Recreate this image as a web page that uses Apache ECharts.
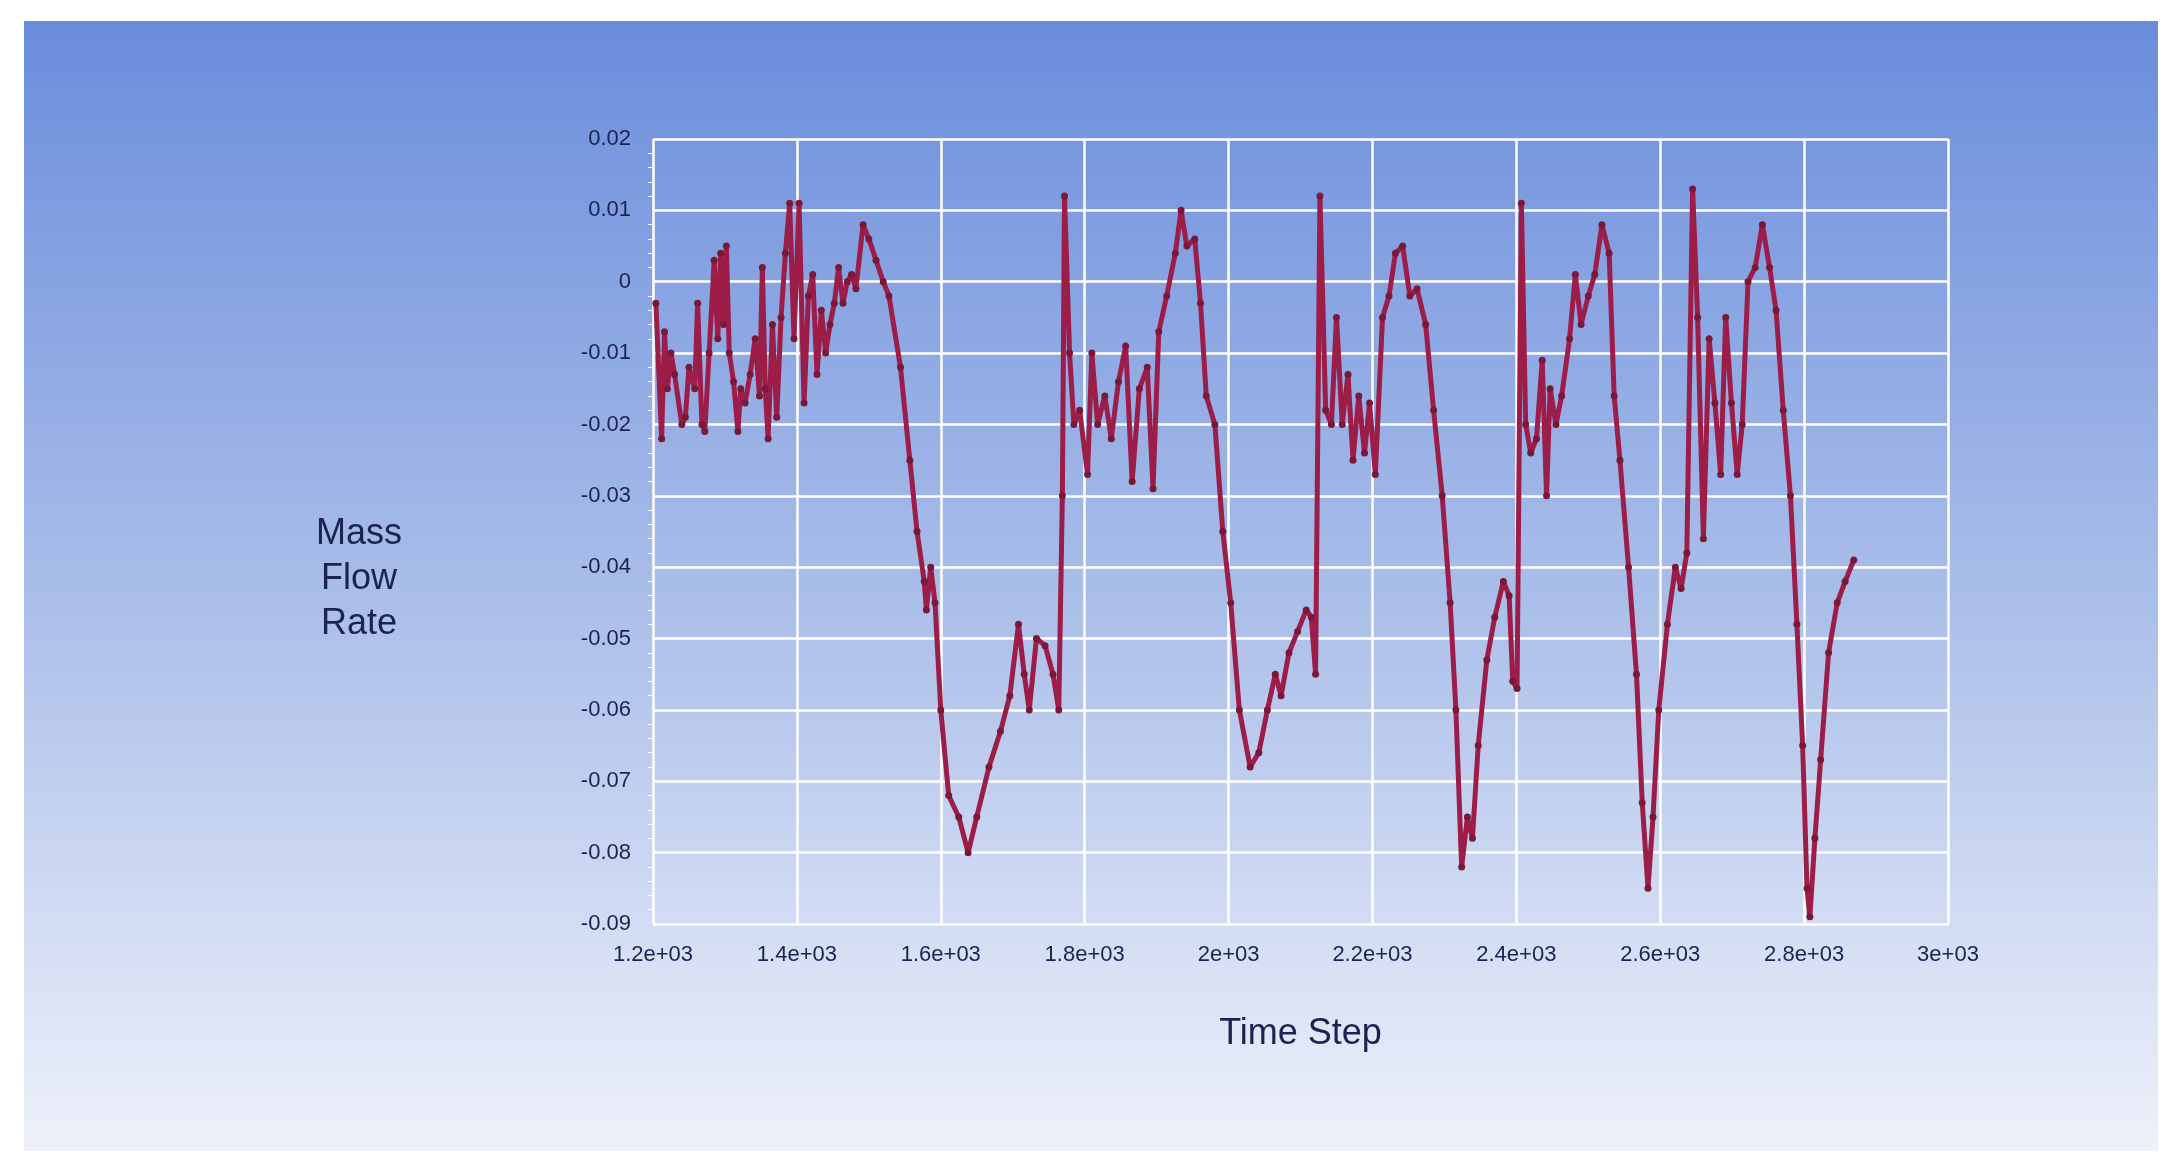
<!DOCTYPE html>
<html>
<head>
<meta charset="utf-8">
<script src="https://cdn.jsdelivr.net/npm/echarts@6/dist/echarts.min.js"></script>
<style>html,body{margin:0;padding:0;background:#fff}#chart{width:2179px;height:1171px}</style>
</head>
<body>
<div id="chart"></div>
<script>
'use strict';

// time step values and mass flow rate
const timeSteps = [1204,1212,1216,1220,1225,1230,1240,1245,1250,1258,1262,1268,1272,1278,1285,1290,1294,1298,1302,1306,1312,1318,1322,1328,1335,1342,1348,1352,1356,1360,1366,1372,1378,1384,1390,1396,1403,1410,1416,1422,1428,1434,1440,1446,1452,1458,1464,1470,1476,1482,1492,1500,1510,1520,1528,1544,1557,1567,1577,1580,1586,1592,1600,1611,1625,1638,1650,1667,1683,1696,1708,1716,1723,1733,1745,1756,1764,1769,1772,1779,1785,1793,1804,1810,1818,1828,1837,1847,1857,1866,1876,1887,1895,1903,1914,1926,1934,1942,1953,1961,1969,1981,1992,2003,2015,2030,2042,2054,2065,2073,2084,2096,2108,2115,2121,2127,2135,2143,2150,2158,2166,2173,2181,2189,2196,2204,2214,2223,2232,2242,2252,2262,2274,2285,2297,2308,2316,2324,2332,2339,2347,2359,2370,2382,2390,2395,2401,2407,2413,2420,2428,2436,2442,2447,2455,2463,2474,2482,2490,2500,2509,2519,2529,2536,2544,2556,2567,2575,2583,2590,2598,2610,2621,2629,2637,2645,2652,2660,2668,2676,2684,2691,2699,2707,2714,2722,2732,2742,2752,2761,2771,2781,2790,2798,2804,2808,2815,2823,2834,2846,2857,2869];
const flowRates = [-0.003,-0.022,-0.007,-0.015,-0.010,-0.013,-0.020,-0.019,-0.012,-0.015,-0.003,-0.020,-0.021,-0.010,0.003,-0.008,0.004,-0.006,0.005,-0.010,-0.014,-0.021,-0.015,-0.017,-0.013,-0.008,-0.016,0.002,-0.015,-0.022,-0.006,-0.019,-0.005,0.004,0.011,-0.008,0.011,-0.017,-0.002,0.001,-0.013,-0.004,-0.010,-0.006,-0.003,0.002,-0.003,0.000,0.001,-0.001,0.008,0.006,0.003,0.000,-0.002,-0.012,-0.025,-0.035,-0.042,-0.046,-0.040,-0.045,-0.060,-0.072,-0.075,-0.080,-0.075,-0.068,-0.063,-0.058,-0.048,-0.055,-0.060,-0.050,-0.051,-0.055,-0.060,-0.030,0.012,-0.010,-0.020,-0.018,-0.027,-0.010,-0.020,-0.016,-0.022,-0.014,-0.009,-0.028,-0.015,-0.012,-0.029,-0.007,-0.002,0.004,0.010,0.005,0.006,-0.003,-0.016,-0.020,-0.035,-0.045,-0.060,-0.068,-0.066,-0.060,-0.055,-0.058,-0.052,-0.049,-0.046,-0.047,-0.055,0.012,-0.018,-0.020,-0.005,-0.020,-0.013,-0.025,-0.016,-0.024,-0.017,-0.027,-0.005,-0.002,0.004,0.005,-0.002,-0.001,-0.006,-0.018,-0.030,-0.045,-0.060,-0.082,-0.075,-0.078,-0.065,-0.053,-0.047,-0.042,-0.044,-0.056,-0.057,0.011,-0.020,-0.024,-0.022,-0.011,-0.030,-0.015,-0.020,-0.016,-0.008,0.001,-0.006,-0.002,0.001,0.008,0.004,-0.016,-0.025,-0.040,-0.055,-0.073,-0.085,-0.075,-0.060,-0.048,-0.040,-0.043,-0.038,0.013,-0.005,-0.036,-0.008,-0.017,-0.027,-0.005,-0.017,-0.027,-0.020,0.000,0.002,0.008,0.002,-0.004,-0.018,-0.030,-0.048,-0.065,-0.085,-0.089,-0.078,-0.067,-0.052,-0.045,-0.042,-0.039];

const xTicks = {1200:'1.2e+03',1400:'1.4e+03',1600:'1.6e+03',1800:'1.8e+03',2000:'2e+03',2200:'2.2e+03',2400:'2.4e+03',2600:'2.6e+03',2800:'2.8e+03',3000:'3e+03'};

const labelColor = '#1c2350';
const font = '"Liberation Sans", Arial, sans-serif';
const chart = echarts.init(document.getElementById('chart'));

chart.setOption({
  animation: false,
  graphic: [{
    type: 'rect', z: -10,
    shape: { x: 24, y: 21, width: 2134, height: 1130 },
    style: {
      fill: new echarts.graphic.LinearGradient(0, 0, 0, 1, [
        { offset: 0, color: '#6a8ddc' },
        { offset: 0.5, color: '#a9bde9' },
        { offset: 1, color: '#eef1fa' }
      ])
    }
  }, {
    type: 'text', x: 359, y: 512,
    style: { text: 'Mass\nFlow\nRate', fill: labelColor, font: '36px ' + font, align: 'center', lineHeight: 45 }
  }],
  grid: { left: 653, right: 231, top: 139, bottom: 247 },
  xAxis: {
    type: 'value', min: 1200, max: 3000, interval: 200,
    name: 'Time Step', nameLocation: 'middle', nameGap: 92,
    nameTextStyle: { color: labelColor, fontSize: 36, fontFamily: font },
    axisLine: { show: false }, axisTick: { show: false },
    axisLabel: { color: labelColor, fontSize: 22, fontFamily: font, margin: 20, formatter: v => xTicks[v] || '' },
    splitLine: { lineStyle: { color: '#ffffff', width: 2.5 } }
  },
  yAxis: {
    type: 'value', min: -0.09, max: 0.02, interval: 0.01,
    axisLine: { show: false }, axisTick: { show: false },
    minorTick: { show: true, splitNumber: 5, length: 5, lineStyle: { color: '#ffffff' } },
    axisLabel: { color: labelColor, fontSize: 22, fontFamily: font, margin: 22,
      formatter: v => { const r = Math.round(v * 100) / 100; return r === 0 ? '0' : String(r); } },
    splitLine: { lineStyle: { color: '#ffffff', width: 2.5 } }
  },
  series: [{
    type: 'line',
    data: timeSteps.map((t, i) => [t, flowRates[i]]),
    symbol: 'circle', symbolSize: 7,
    itemStyle: { color: '#7a1838' },
    lineStyle: { color: '#9b1d48', width: 5 }
  }]
});
</script>
</body>
</html>
